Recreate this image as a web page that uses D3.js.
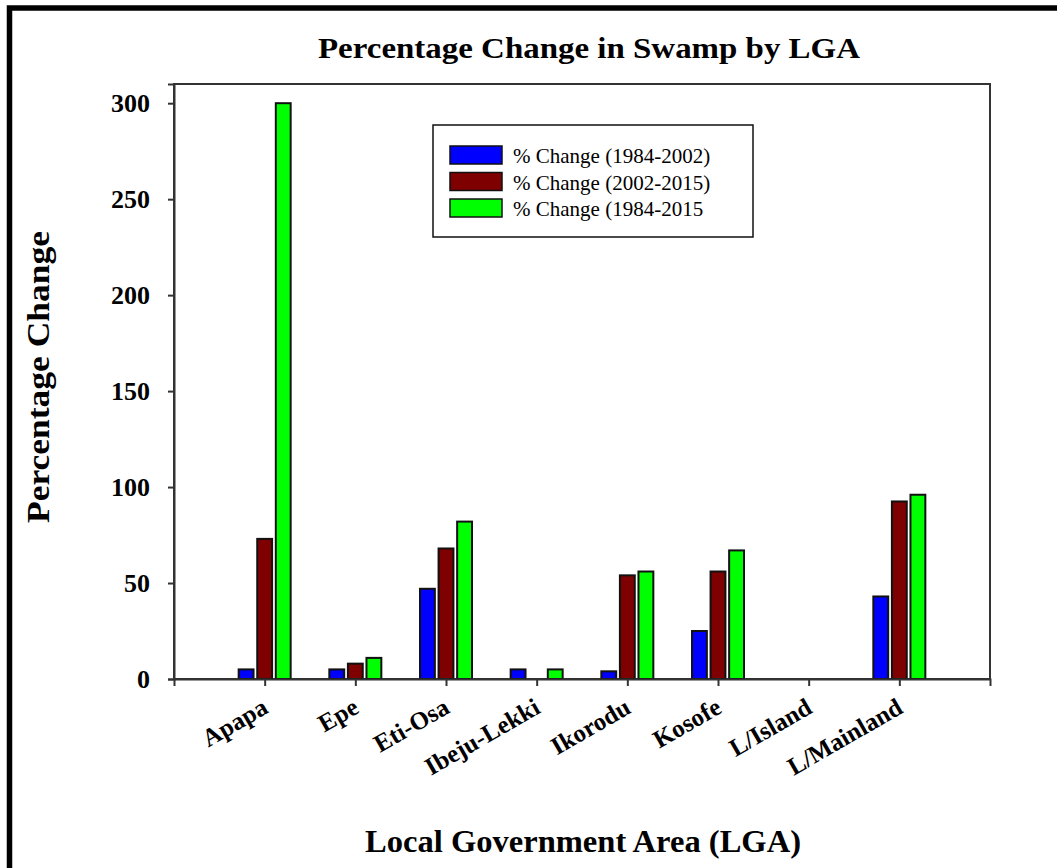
<!DOCTYPE html>
<html>
<head>
<meta charset="utf-8">
<script src="https://cdn.jsdelivr.net/npm/d3@7"></script>
<style>
  body { margin: 0; background: #fff; }
  svg text { font-family: "Times New Roman", "Liberation Serif", serif; }
</style>
</head>
<body>
<div id="chart"></div>
<script>
// LGA categories and the three % change series
const lgas = ["Apapa", "Epe", "Eti-Osa", "Ibeju-Lekki", "Ikorodu", "Kosofe", "L/Island", "L/Mainland"]
const seriesNames = ["% Change (1984-2002)", "% Change (2002-2015)", "% Change (1984-2015"]
const change1984_2002 = [5, 5, 47, 5, 4, 25, 0, 43]
const change2002_2015 = [73, 8, 68, 0, 54, 56, 0, 92.5]
const change1984_2015 = [300, 11, 82, 5, 56, 67, 0, 96]
const yTicks = [0, 50, 100, 150, 200, 250, 300]
const seriesColors = ["#0000ff", "#7f0000", "#00ff00"]

const width = 1057, height = 868
const margin = {left: 174, right: 67, top: 84, bottom: 189}

const svg = d3.select("#chart").append("svg")
    .attr("width", width)
    .attr("height", height)

// outer frame (runs off the right / bottom edge like the picture)
svg.append("rect")
    .attr("x", 9.5).attr("y", 8)
    .attr("width", width + 20).attr("height", height + 20)
    .attr("fill", "none")
    .attr("stroke", "#000")
    .attr("stroke-width", 5.5)

const x = d3.scalePoint()
    .domain(lgas)
    .range([margin.left, width - margin.right])
    .padding(1)

const x1 = d3.scaleBand()
    .domain([0, 1, 2])
    .range([-26, 26])
    .paddingInner(0.2)

const y = d3.scaleLinear()
    .domain([0, 310])
    .range([height - margin.bottom, margin.top])

let allSeries = [change1984_2002, change2002_2015, change1984_2015]
let bars = []
lgas.forEach(function(name, i){
    allSeries.forEach(function(s, k){
        bars.push({lga: name, series: k, value: s[i]})
    })
})

// plot frame
svg.append("rect")
    .attr("x", margin.left).attr("y", margin.top)
    .attr("width", width - margin.right - margin.left)
    .attr("height", height - margin.bottom - margin.top)
    .attr("fill", "none")
    .attr("stroke", "#333")
    .attr("stroke-width", 2)

svg.append("g").selectAll("rect")
    .data(bars.filter(d => d.value > 0))
    .enter().append("rect")
    .attr("x", d => x(d.lga) + x1(d.series))
    .attr("y", d => y(d.value))
    .attr("width", x1.bandwidth())
    .attr("height", d => y(0) - y(d.value))
    .attr("fill", d => seriesColors[d.series])
    .attr("stroke", "#111")
    .attr("stroke-width", 2)

// y axis
const yAxis = svg.append("g")
    .attr("transform", "translate(" + margin.left + ",0)")
    .call(d3.axisLeft(y).tickValues(yTicks).tickSize(6).tickPadding(18))
yAxis.select(".domain").attr("stroke", "#333").attr("stroke-width", 2)
yAxis.selectAll(".tick line").attr("stroke", "#333").attr("stroke-width", 2)
yAxis.selectAll(".tick text")
    .attr("font-family", "'Times New Roman', 'Liberation Serif', serif")
    .attr("font-size", 26)
    .attr("font-weight", "bold")
    .attr("fill", "#000")

// x axis
const xAxis = svg.append("g")
    .attr("transform", "translate(0," + (height - margin.bottom) + ")")
    .call(d3.axisBottom(x).tickSize(7).tickFormat(""))
xAxis.select(".domain").attr("stroke", "#333").attr("stroke-width", 2)
xAxis.selectAll(".tick line").attr("stroke", "#333").attr("stroke-width", 2)

svg.append("g").selectAll("text")
    .data(lgas)
    .enter().append("text")
    .attr("transform", d => "translate(" + (x(d) + 5) + ",712) rotate(-30)")
    .attr("text-anchor", "end")
    .attr("font-size", 25)
    .attr("font-weight", "bold")
    .text(d => d)

// titles
svg.append("text")
    .attr("x", 589).attr("y", 58)
    .attr("text-anchor", "middle")
    .attr("font-size", 30)
    .attr("font-weight", "bold")
    .attr("textLength", 542)
    .attr("lengthAdjust", "spacingAndGlyphs")
    .text("Percentage Change in Swamp by LGA")

svg.append("text")
    .attr("x", 583).attr("y", 852)
    .attr("text-anchor", "middle")
    .attr("font-size", 31)
    .attr("font-weight", "bold")
    .attr("textLength", 436)
    .attr("lengthAdjust", "spacingAndGlyphs")
    .text("Local Government Area (LGA)")

svg.append("text")
    .attr("transform", "translate(49,377) rotate(-90)")
    .attr("text-anchor", "middle")
    .attr("font-size", 31)
    .attr("font-weight", "bold")
    .attr("textLength", 292)
    .attr("lengthAdjust", "spacingAndGlyphs")
    .text("Percentage Change")

// legend
const legend = svg.append("g").attr("transform", "translate(433,125)")
legend.append("rect")
    .attr("width", 320).attr("height", 112)
    .attr("fill", "#fff")
    .attr("stroke", "#111")
    .attr("stroke-width", 1.5)

const items = legend.selectAll("g.item")
    .data(seriesNames)
    .enter().append("g")
    .attr("class", "item")
    .attr("transform", (d, i) => "translate(17," + (21 + i * 26.5) + ")")
items.append("rect")
    .attr("width", 52).attr("height", 18)
    .attr("fill", (d, i) => seriesColors[i])
    .attr("stroke", "#111")
    .attr("stroke-width", 1.5)
items.append("text")
    .attr("x", 63).attr("y", 17)
    .attr("font-size", 21)
    .text(d => d)
</script>
</body>
</html>
